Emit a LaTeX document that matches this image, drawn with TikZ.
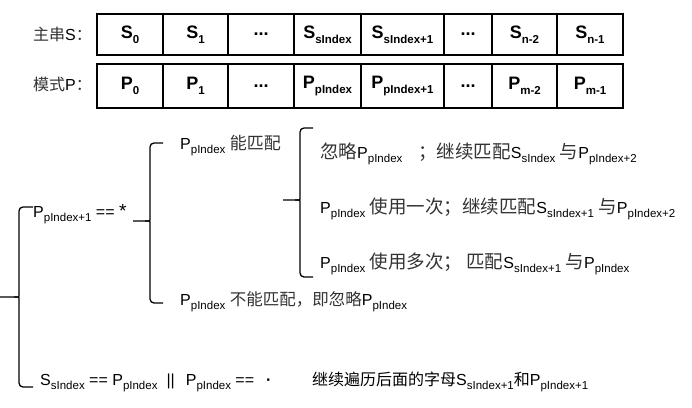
\documentclass[tikz,border=0pt]{standalone}
\usepackage{fontspec}
\setmainfont{Liberation Sans}
\newfontfamily\cjk{Noto Sans CJK SC}
\newcommand\zh[2][16]{{\cjk\fontsize{#1}{#1}\selectfont\color{black!80}#2}}
\newcommand\zhb[1]{{\cjk\fontsize{16}{16}\selectfont #1}}
\newcommand\subs[1]{\raisebox{-0.28em}{\fontsize{11.5}{12}\selectfont #1}}
\newcommand\tsub[1]{\raisebox{-0.3em}{\fontsize{11.5}{12}\selectfont #1}}
\tikzset{
  cell/.style={draw, line width=1.1pt, inner sep=0pt, minimum height=#1,
    font=\fontsize{18}{18}\selectfont\bfseries},
  txt/.style={anchor=base west, inner sep=0pt, font=\fontsize{16}{16}\selectfont},
  brace/.style={line width=1.3pt, rounded corners=4pt}
}
\begin{document}
\begin{tikzpicture}[x=1pt,y=-1pt]
\useasboundingbox (0,0) rectangle (692,407);

% Tableaux
  \node[txt] (lblS) at (33,40) {\zh{主串}S\zh{：}};
  \node[txt] (lblP) at (33,90) {\zh{模式}P\zh{：}};
  \foreach \n/\l/\r/\t in {1/97/163/{S\tsub{0}}, 2/163/228/{S\tsub{1}}, 3/228/294/{...},
      4/294/361/{S\tsub{sIndex}}, 5/361/444/{S\tsub{sIndex+1}}, 6/444/492/{...},
      7/492/557/{S\tsub{n-2}}, 8/557/623/{S\tsub{n-1}}}
  \node[cell=41, minimum width={\r-\l}] (s\n) at ({(\l+\r)/2},34.5) {\t};
  \foreach \n/\l/\r/\t in {1/97/163/{P\tsub{0}}, 2/163/228/{P\tsub{1}}, 3/228/294/{...},
      4/294/361/{P\tsub{pIndex}}, 5/361/444/{P\tsub{pIndex+1}}, 6/444/492/{...},
      7/492/557/{P\tsub{m-2}}, 8/557/623/{P\tsub{m-1}}}
  \node[cell=44, minimum width={\r-\l}] (p\n) at ({(\l+\r)/2},86) {\t};

% Accolades
  \foreach \bx/\bt/\bm/\bb/\tip/\hk in {19/207/297/387/0/33, 150/143/221/303/133/163, 300/128/200/277/283/313}
  {
  \draw[brace] (\hk,\bt) -- (\bx,\bt) -- (\bx,\bm-5) [sharp corners] .. controls (\bx,\bm) .. (\bx-5,\bm) -- (\tip,\bm);
  \draw[brace] (\bx-5,\bm) .. controls (\bx,\bm) .. (\bx,\bm+5) [rounded corners=4pt] -- (\bx,\bb) -- (\hk,\bb);
  }

% Textes
  \node[txt] (star) at (33,217) {P\subs{pIndex+1} == {\fontsize{19}{19}\selectfont *}};
  \node[txt] (match) at (180,149) {P\subs{pIndex} \zh[17]{能匹配}};
  \node[txt] (skip) at (320,158) {\zh[18.5]{忽略}P\subs{pIndex}\quad\zh[18.5]{；继续匹配}S\subs{sIndex} \zh[18.5]{与}P\subs{pIndex+2}};
  \node[txt] (once) at (320,213) {P\subs{pIndex} \zh[18.5]{使用一次；继续匹配}S\subs{sIndex+1} \zh[18.5]{与}P\subs{pIndex+2}};
  \node[txt] (many) at (320,268) {P\subs{pIndex} \zh[18.5]{使用多次；\ 匹配}S\subs{sIndex+1} \zh[18.5]{与}P\subs{pIndex}};
  \node[txt] (nomatch) at (180,305) {P\subs{pIndex} \zh[16.5]{不能匹配，即忽略}P\subs{pIndex}};
  \node[txt] (cond) at (40,385) {S\subs{sIndex} == P\subs{pIndex}\hspace{9pt}||\hspace{11pt}P\subs{pIndex} ==\hspace{12pt}\textbf{·}};
  \node[txt] (next) at (312,385) {\zhb{继续遍历后面的字母}S\subs{sIndex+1}\zhb{和}P\subs{pIndex+1}};
\end{tikzpicture}
\end{document}
